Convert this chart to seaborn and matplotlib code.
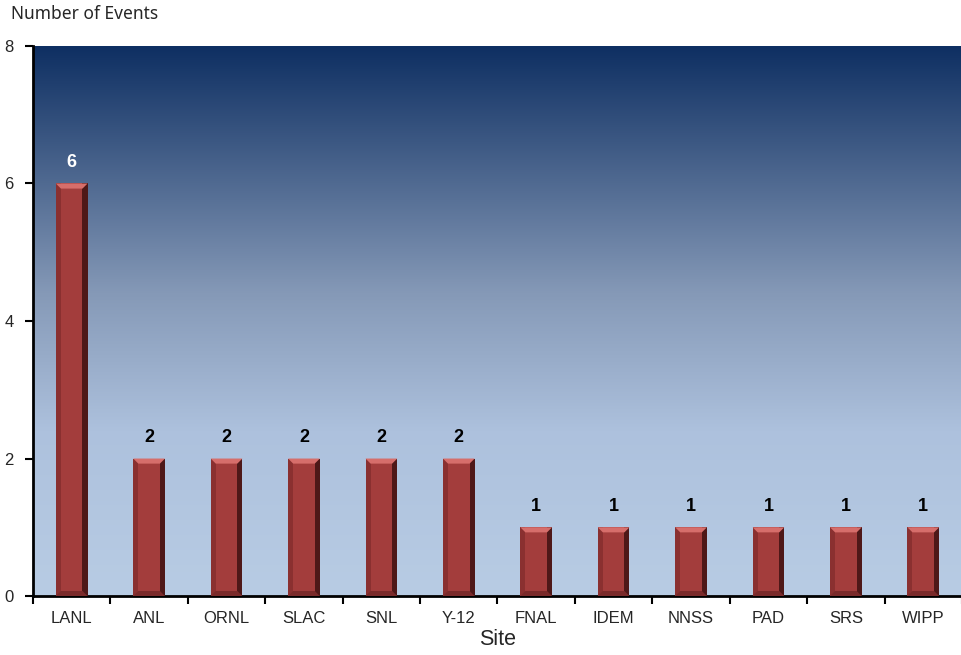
import numpy as np
import pandas as pd
import matplotlib
matplotlib.use("Agg")
import matplotlib.pyplot as plt
import seaborn as sns
from matplotlib.colors import LinearSegmentedColormap
from matplotlib.patches import Rectangle, Polygon

sites = ["LANL", "ANL", "ORNL", "SLAC", "SNL", "Y-12", "FNAL", "IDEM", "NNSS", "PAD", "SRS", "WIPP"]
events = [6, 2, 2, 2, 2, 2, 1, 1, 1, 1, 1, 1]
y_ticks = [0, 2, 4, 6, 8]

df = pd.DataFrame({"site": sites, "events": events})

sns.set_style("white")
plt.rcParams["font.family"] = ["Liberation Sans", "DejaVu Sans"]

fig = plt.figure(figsize=(9.62, 6.55), dpi=100)
ax = fig.add_axes([0.0343, 0.090, 0.9657, 0.8398])

# background gradient (dark navy at top to light blue)
bg = LinearSegmentedColormap.from_list(
    "bg", [(0.0, "#b8cce4"), (0.30, "#adc1dd"), (0.55, "#8599b7"), (1.0, "#0e2f62")])
grad = np.linspace(0, 1, 256).reshape(-1, 1)
ax.imshow(grad, cmap=bg, aspect="auto", extent=[-0.5, len(sites) - 0.5, 0, 8],
          origin="lower", zorder=0)

sns.barplot(data=df, x="site", y="events", color="#a33d3c", width=0.41,
            saturation=1, ax=ax, zorder=2, edgecolor="none")

# bevel effect derived from each bar's geometry
for p in list(ax.patches):
    x0, w, h = p.get_x(), p.get_width(), p.get_height()
    e = w * 0.16
    ev = e * (8 / 550) / (12 / 929)
    ax.add_patch(Rectangle((x0 + w - e, 0), e, h, color="#4e1818", zorder=3, lw=0))
    ax.add_patch(Rectangle((x0, 0), e, h, color="#8a3030", zorder=3, lw=0))
    ax.add_patch(Polygon([(x0, h), (x0 + w, h), (x0 + w - e, h - ev), (x0 + e, h - ev)],
                         closed=True, color="#d66e6b", zorder=3, lw=0))
    ax.add_patch(Polygon([(x0, 0), (x0 + w, 0), (x0 + w - e, ev), (x0 + e, ev)],
                         closed=True, color="#7a2a2a", zorder=3, lw=0))

for i, v in enumerate(events):
    ax.text(i, v + 0.18, str(v), ha="center", va="bottom", fontsize=13,
            fontweight="bold", color="white" if v >= 5 else "black", zorder=4)

ax.set_xlim(-0.5, len(sites) - 0.5)
ax.set_ylim(0, 8)
ax.set_yticks(y_ticks)
ax.set_xticks(np.arange(len(sites)))
ax.set_xticklabels(sites, fontsize=12)
ax.set_xticks(np.arange(len(sites) + 1) - 0.5, minor=True)
ax.tick_params(axis="x", which="both", bottom=True)
ax.tick_params(axis="x", which="major", length=0, pad=11)
ax.tick_params(axis="x", which="minor", length=6, width=1.5, direction="out", color="black")
ax.tick_params(axis="y", left=True, length=6, width=1.5, direction="out", color="black",
               labelsize=12, pad=8)
ax.set_xlabel("Site", fontsize=15.5, labelpad=2)
ax.set_ylabel("")
for s in ["top", "right"]:
    ax.spines[s].set_visible(False)
for s in ["left", "bottom"]:
    ax.spines[s].set_linewidth(2)
    ax.spines[s].set_color("black")

fig.text(0.011, 0.978, "Number of Events", fontsize=12.5, va="center", ha="left",
         family=["Noto Sans", "DejaVu Sans"])

fig.savefig("out.png", dpi=100)
